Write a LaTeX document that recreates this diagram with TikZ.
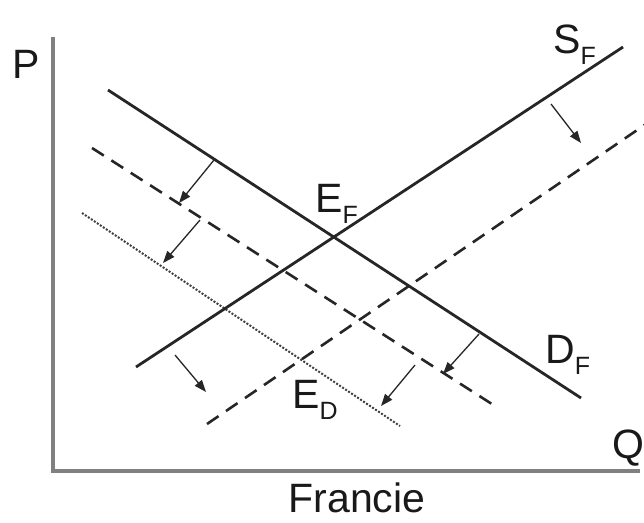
\documentclass[tikz,border=0pt]{standalone}
\usepackage{fontspec}
\setmainfont{Liberation Sans}
\usetikzlibrary{arrows.meta}
\newcommand{\lbl}{\fontsize{41}{41}\selectfont}
\newcommand{\subF}[1]{\raisebox{-11pt}{\fontsize{25}{25}\selectfont #1}}
\tikzset{
  curve/.style={line width=2.8pt, draw=black!85},
  dcurve/.style={line width=2.6pt, draw=black!85, dash pattern=on 14pt off 9pt},
  tcurve/.style={line width=2pt, draw=black!75, dash pattern=on 2pt off 1.6pt},
  axisline/.style={line width=3.5pt, draw=black!50},
  shiftarrow/.style={line width=1.3pt, draw=black!85, -{Triangle[length=12pt,width=9pt]}},
  txt/.style={inner sep=0pt, font=\lbl, text=black!90}
}
\begin{document}
\begin{tikzpicture}[x=1pt,y=-1pt]
\useasboundingbox (0,0) rectangle (644,522);
% axes
\coordinate (top) at (53,37);
\coordinate (org) at (53,471);
\coordinate (right) at (640,471);
\draw[axisline] (top) -- (org) -- (right);
% curve end points
\coordinate (df1) at (108,90);   \coordinate (df2) at (581,398);
\coordinate (dd1) at (92,148);   \coordinate (dd2) at (495,406);
\coordinate (dt1) at (82,213);   \coordinate (dt2) at (400,426);
\coordinate (sf1) at (136,367);  \coordinate (sf2) at (623,47);
\coordinate (sd1) at (207,424);  \coordinate (sd2) at (646,124);
\draw[curve] (df1) -- (df2);
\draw[dcurve] (dd1) -- (dd2);
\draw[tcurve] (dt1) -- (dt2);
\draw[curve] (sf1) -- (sf2);
\draw[dcurve] (sd1) -- (sd2);
% shift arrows
\coordinate (a1s) at (214,160); \coordinate (a1e) at (179,203);
\coordinate (a2s) at (200,220); \coordinate (a2e) at (163,263);
\coordinate (a3s) at (551,104); \coordinate (a3e) at (581,143);
\coordinate (a4s) at (175,355); \coordinate (a4e) at (206,392);
\coordinate (a5s) at (479,334); \coordinate (a5e) at (443,374);
\coordinate (a6s) at (415,365); \coordinate (a6e) at (381,406);
\draw[shiftarrow] (a1s) -- (a1e);
\draw[shiftarrow] (a2s) -- (a2e);
\draw[shiftarrow] (a3s) -- (a3e);
\draw[shiftarrow] (a4s) -- (a4e);
\draw[shiftarrow] (a5s) -- (a5e);
\draw[shiftarrow] (a6s) -- (a6e);
% labels
\node[txt, anchor=base west] (P) at (12,78) {P};
\node[txt, anchor=base west] (Q) at (612,458) {Q};
\node[txt, anchor=base] (fr) at (357,512) {Francie};
\node[txt, anchor=base west] (EF) at (315,212) {E\subF{F}};
\node[txt, anchor=base west] (SF) at (553,53) {S\subF{F}};
\node[txt, anchor=base west] (DF) at (545,363) {D\subF{F}};
\node[txt, anchor=base west] (ED) at (292,408) {E\subF{D}};
\end{tikzpicture}
\end{document}
